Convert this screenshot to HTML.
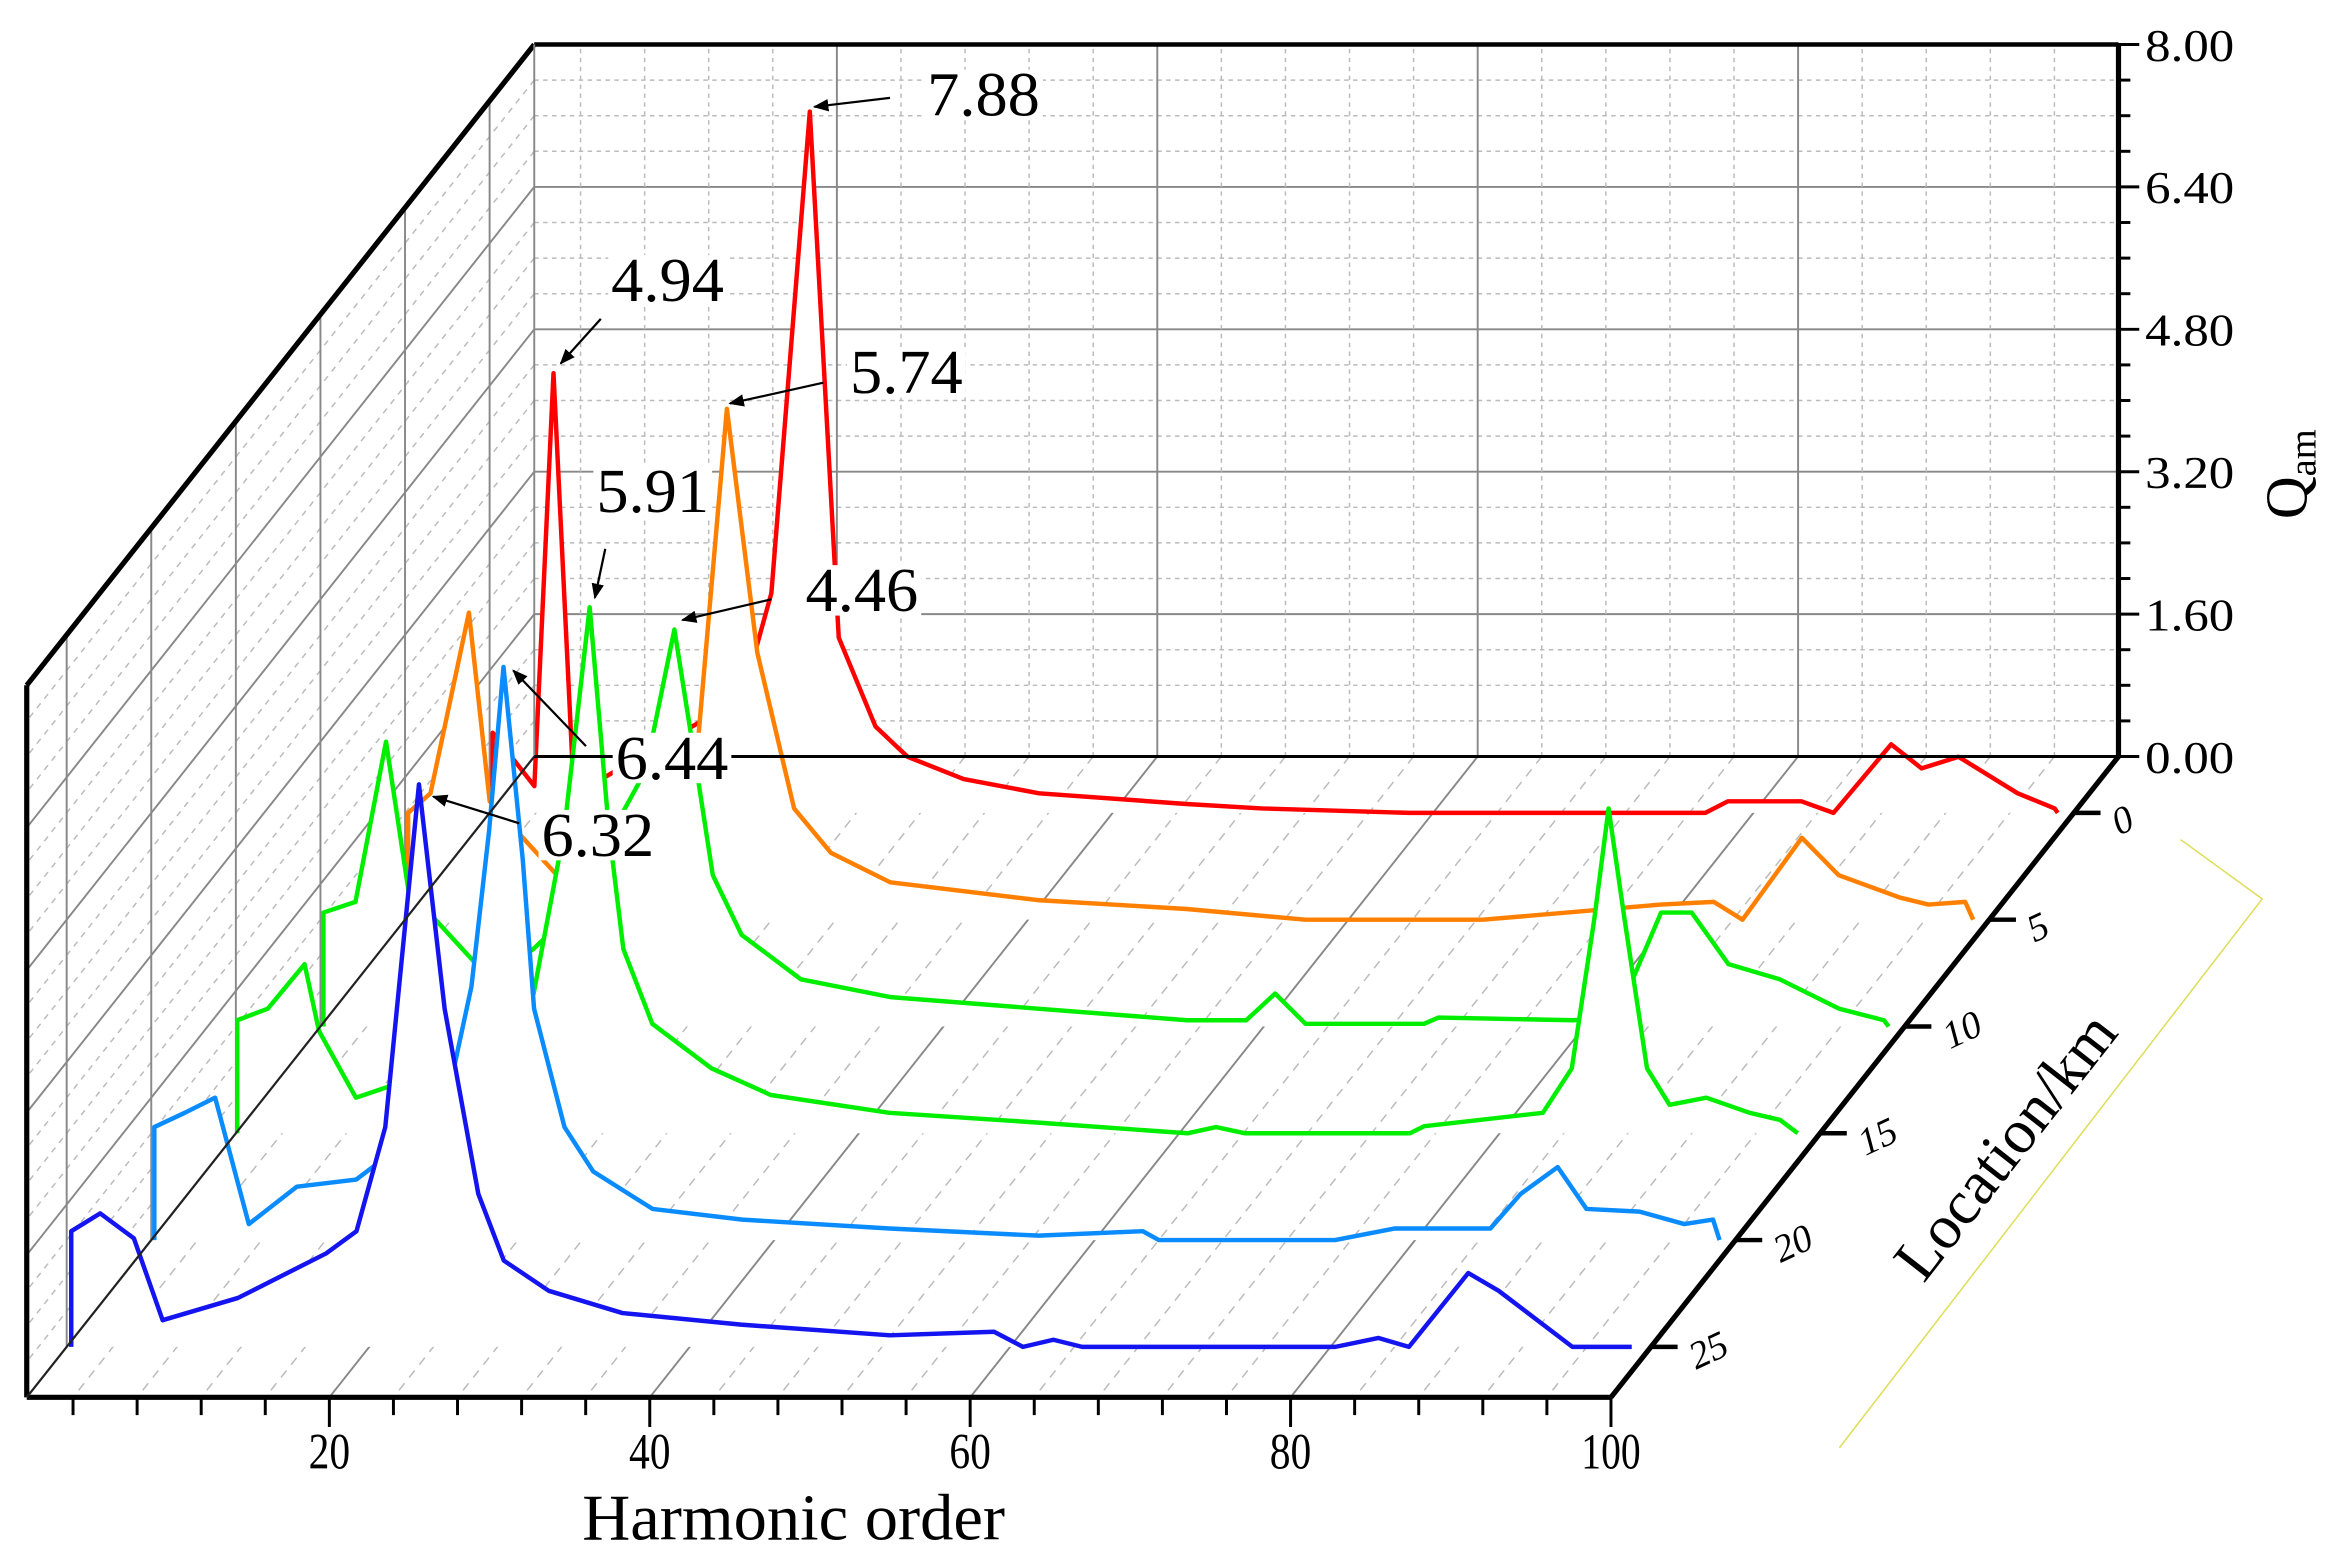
<!DOCTYPE html>
<html><head><meta charset="utf-8"><style>
html,body{margin:0;padding:0;background:#fff;}
svg{display:block;font-family:"Liberation Serif",serif;}
</style></head><body>
<svg id="chart" xmlns="http://www.w3.org/2000/svg" width="2326" height="1559" viewBox="0 0 1568 1051">
<defs><marker id="arr" viewBox="0 0 10 10" refX="9" refY="5" markerWidth="7" markerHeight="7" orient="auto-start-reverse"><path d="M0,1 L10,5 L0,9 z" fill="#000"/></marker></defs>
<g id="grid"></g>
<g id="series"></g>
<g id="axes"></g>
<g id="annot"></g>
</svg>
<script>
// ---- data ----
const locations = [0, 5, 10, 15, 20, 25];
const seriesColors = ["#ff0000", "#ff8000", "#00ee00", "#00ee00", "#0a8cff", "#1414f0"];
const harmonicTicks = [20, 40, 60, 80, 100];
const valueTicks = ["0.00", "1.60", "3.20", "4.80", "6.40", "8.00"];
const s0h = [1.3,3.9,5.1,6.3,8.1,16.9,18.7,21.1,22.9,25.2,27.2,30.7,35.4,44.6,49.3,58.5,77,78.4,83,85,88.6,90.5,92.8,96.5,98.8,99];
const s0v = [0.9,0.3,4.94,0.47,0.38,1.3,2.47,7.88,1.97,0.97,0.63,0.38,0.22,0.1,0.05,0,0,0.13,0.13,0,0.77,0.5,0.63,0.22,0.05,0];
const s1h = [1.3,2.7,5.1,6.4,11,13.8,19.4,21.2,23.1,25.4,27.7,31.4,40.6,49.9,57.3,68.4,79.5,82.8,84.6,88.3,90.6,94.4,96.2,98.5,99];
const s1v = [1.2,1.42,3.45,1.33,0.42,0.58,2.0,5.74,3.0,1.25,0.75,0.42,0.22,0.12,0,0,0.17,0.2,0,0.92,0.5,0.25,0.17,0.2,0];
const s2h = [1.3,3.3,5.2,6.6,11.7,14.4,16.3,21.4,23.2,24.6,25.6,27.4,31.1,36.7,45.9,55.2,58.9,60.7,62.6,70,70.9,79.3,82,84.8,86.7,89,92.2,95.9,98.7,99];
const s2v = [1.28,1.4,3.2,1.53,0.53,0.87,1.2,2.87,4.46,2.87,1.7,1.03,0.53,0.33,0.2,0.07,0.07,0.37,0.03,0.03,0.1,0.07,0.1,1.28,1.28,0.7,0.53,0.2,0.07,0];
const s3h = [1.2,3.1,5.4,6.3,8.6,11.4,14.2,19.7,21.6,23.2,24.4,25.3,27.1,30.8,34.5,41.9,51.2,60.5,62.3,64.1,74.4,75.3,82.7,84.5,85.9,86.8,87.8,89.2,90.6,92.9,95.6,97.5,98.6];
const s3v = [1.27,1.4,1.9,1.15,0.4,0.57,0.73,1.57,3.4,5.91,3.4,2.07,1.23,0.73,0.43,0.23,0.12,0,0.07,0,0,0.08,0.23,0.73,2.4,3.65,2.4,0.73,0.32,0.4,0.23,0.15,0];
const s4h = [1.3,3.2,5.1,7.2,10.2,13.9,19.4,21.1,22.2,23.1,24.3,25,26.9,28.7,32.4,38,47.2,56.5,63,64,75,78.7,84.7,86.6,88.9,90.7,94,96.8,98.6,99];
const s4v = [1.27,1.43,1.6,0.18,0.6,0.68,1.43,2.85,4.6,6.44,4.27,2.6,1.27,0.77,0.35,0.23,0.13,0.05,0.1,0,0,0.13,0.13,0.52,0.82,0.35,0.32,0.18,0.23,0];
const s5h = [1.4,3.2,5.3,7.1,11.8,17.3,19.2,21,23.1,24.7,26.8,28.4,31.2,35.8,43.2,52.5,59,60.8,62.7,64.5,80.3,83,84.9,88.6,90.5,95.1,98.8];
const s5v = [1.3,1.5,1.22,0.3,0.55,1.05,1.3,2.47,6.32,3.8,1.72,0.97,0.63,0.38,0.25,0.13,0.17,0,0.08,0,0,0.1,0,0.83,0.63,0,0];
const seriesH = [s0h, s1h, s2h, s3h, s4h, s5h];
const seriesV = [s0v, s1v, s2v, s3v, s4v, s5v];

// ---- axis functions ----
const H0 = 1.11, H1 = 100;
function depth(z){ return 34 + (25 - z) * 14.4; }
function px(h, z, v){ const d = depth(z); return 6 + 10.8*h + 0.792*d; }
function py(h, z, v){ const d = depth(z); return 942 - d - 60*v; }
const ZB = 25 - 398/14.4, ZF = 25 + 34/14.4; // back wall, front edge
const NS = "http://www.w3.org/2000/svg";
function mk(tag, attrs, parent){ const e = document.createElementNS(NS, tag); for (const k in attrs) e.setAttribute(k, attrs[k]); parent.appendChild(e); return e; }
function ln(x1,y1,x2,y2,st,w,dash,parent){ return mk("line",{x1,y1,x2,y2,stroke:st,"stroke-width":w,"stroke-dasharray":dash||"none"},parent); }
const grid = document.getElementById("grid"), ser = document.getElementById("series"), axes = document.getElementById("axes"), ann = document.getElementById("annot");

// back wall grid
for (let v = 0; v <= 8.001; v += 0.4) {
  const major = Math.abs(v/1.6 - Math.round(v/1.6)) < 1e-6;
  const l = ln(px(H0,ZB,v), py(H0,ZB,v), px(H1,ZB,v), py(H1,ZB,v), major?"#888":"#bbb", major?1.3:1, major?"":"3,3", grid);
  
  
}
for (let h = 4; h < 100; h += 4) {
  const major = h % 20 === 0;
  const l = ln(px(h,ZB,0), py(h,ZB,0), px(h,ZB,8), py(h,ZB,8), major?"#888":"#bbb", major?1.3:1, major?"":"3,3", grid);
  
  
  const f = ln(px(h,ZB,0), py(h,ZB,0), px(h,ZF,0), py(h,ZF,0), major?"#888":"#bbb", major?1.3:1, major?"":"6,5", grid);
  
  
}
// left wall grid
for (let v = 0.4; v <= 8.001; v += 0.4) {
  const major = Math.abs(v/1.6 - Math.round(v/1.6)) < 1e-6;
  const l = ln(px(H0,ZB,v), py(H0,ZB,v), px(H0,ZF,v), py(H0,ZF,v), major?"#888":"#bbb", major?1.3:1, major?"":"4,4", grid);
  
  
}
for (const z of locations) {
  const l = ln(px(H0,z,0), py(H0,z,0), px(H0,z,8), py(H0,z,8), "#888", 1.3, "", grid);
  
  
}

// series back to front
locations.forEach((z, i) => {
  const hs = seriesH[i], vs = seriesV[i];
  let pts = [[px(hs[0],z,0), py(hs[0],z,0)]];
  for (let k = 0; k < hs.length; k++) pts.push([px(hs[k],z,vs[k]), py(hs[k],z,vs[k])]);
  pts.push([px(hs[hs.length-1],z,0), py(hs[hs.length-1],z,0)]);
  const s = pts.map(p => p[0].toFixed(1)+","+p[1].toFixed(1)).join(" ");
  const fill = mk("polygon",{points:s, fill:"#fff", stroke:"none"}, ser);
  
  
  const pl = mk("polyline",{points:s, fill:"none", stroke:seriesColors[i], "stroke-width":3, "stroke-linejoin":"round"}, ser);
  
  
});

// axes
const bk = "#000";
ln(px(H0,ZF,0),py(H0,ZF,0),px(H1,ZF,0),py(H1,ZF,0),bk,3.5,"",axes);
ln(px(H0,ZF,0),py(H0,ZF,0),px(H0,ZF,8),py(H0,ZF,8),bk,3.5,"",axes);
ln(px(H0,ZF,8),py(H0,ZF,8),px(H0,ZB,8),py(H0,ZB,8),bk,3.5,"",axes);
ln(px(H0,ZB,8),py(H0,ZB,8),px(H1,ZB,8),py(H1,ZB,8),bk,3,"",axes);
ln(px(H0,ZB,0),py(H0,ZB,0),px(H0,ZB,8),py(H0,ZB,8),"#888",1.3,"",axes);
ln(px(H0,ZF,0),py(H0,ZF,0),px(H0,ZB,0),py(H0,ZB,0),"#222",1.5,"",axes);
ln(px(H0,ZB,0),py(H0,ZB,0),px(H1,ZB,0),py(H1,ZB,0),bk,2,"",axes);
ln(px(H1,ZF,0),py(H1,ZF,0),px(H1,ZB,0),py(H1,ZB,0),bk,3.5,"",axes);
ln(px(H1,ZB,0),py(H1,ZB,0),px(H1,ZB,8),py(H1,ZB,8),bk,3.5,"",axes);
for (let h = 4; h <= 100; h += 4) {
  const major = h % 20 === 0;
  const x = px(h,ZF,0), y = py(h,ZF,0);
  ln(x,y,x,y+(major?20:12),bk,2,"",axes);
}
harmonicTicks.forEach(h => {
  const t = mk("text",{x:px(h,ZF,0), y:py(h,ZF,0)+48, "font-size":34, "text-anchor":"middle", textLength:h===100?40:28, lengthAdjust:"spacingAndGlyphs"}, axes);
  t.textContent = h;
  
  
});
for (let v = 0; v <= 8.001; v += 0.4) {
  const major = Math.abs(v/1.6 - Math.round(v/1.6)) < 1e-6;
  const x = px(H1,ZB,v), y = py(H1,ZB,v);
  ln(x,y,x+(major?14:8),y,bk,2,"",axes);
}
valueTicks.forEach(s => {
  const v = parseFloat(s);
  const t = mk("text",{x:px(H1,ZB,v)+18, y:py(H1,ZB,v)+11, "font-size":31, textLength:60, lengthAdjust:"spacingAndGlyphs"}, axes);
  t.textContent = s;
  
  
});
locations.forEach(z => {
  const x = px(H1,z,0), y = py(H1,z,0);
  ln(x,y,x+18,y,bk,3,"",axes);
  const t = mk("text",{x:x+28, y:y+16, "font-size":26, "font-style":"italic", transform:`rotate(-25 ${x+28} ${y+10})`}, axes);
  t.textContent = z;
  
  
});
</script>
<script>
(function(){
const ann = document.getElementById("annot");
const NS = "http://www.w3.org/2000/svg";
function mk(tag, attrs, parent){ const e = document.createElementNS(NS, tag); for (const k in attrs) e.setAttribute(k, attrs[k]); parent.appendChild(e); return e; }
const xt = mk("text",{x:535, y:1038, "font-size":44, "text-anchor":"middle", textLength:285, lengthAdjust:"spacingAndGlyphs"}, ann);
xt.textContent = "Harmonic order";


const lt = mk("text",{x:1355, y:785, "font-size":42, "text-anchor":"middle", transform:"rotate(-52 1355 775)"}, ann);
lt.textContent = "Location/km";


const qt = mk("text",{x:1555, y:350, "font-size":40, transform:"rotate(-90 1555 350)"}, ann);
qt.innerHTML = 'Q<tspan font-size="26" dy="6">am</tspan>';


const yl = mk("polyline",{points:"1470,566 1525,606 1240,976", fill:"none", stroke:"#dddd55", "stroke-width":1}, ann);


const notes = [
 ["7.88",625,78,600,66,549,72],
 ["4.94",412,203,405,215,378,245],
 ["5.74",573,265,555,258,492,272],
 ["5.91",402,345,408,370,401,403],
 ["4.46",543,412,520,404,460,418],
 ["6.44",415,525,395,503,346,452],
 ["6.32",365,577,350,555,292,537]
];
notes.forEach(n => {
  const r = mk("rect",{x:n[1]-2, y:n[2]-31, width:80, height:34, fill:"#fff"}, ann);
  
  
  const l = mk("line",{x1:n[3], y1:n[4], x2:n[5], y2:n[6], stroke:"#000", "stroke-width":1.5, "marker-end":"url(#arr)"}, ann);
  
  
  const t = mk("text",{x:n[1], y:n[2], "font-size":42, textLength:76, lengthAdjust:"spacingAndGlyphs"}, ann);
  t.textContent = n[0];
  
  
});
})();
</script>
</body></html>
